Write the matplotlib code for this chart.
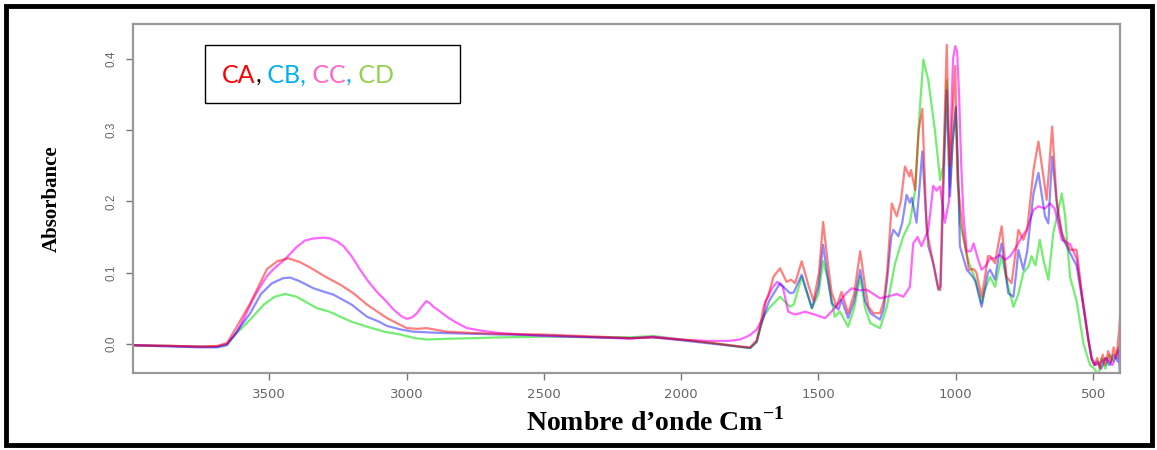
import matplotlib
matplotlib.use("Agg")
import matplotlib.pyplot as plt
from matplotlib.patches import Rectangle

# ---- FTIR absorbance spectra (wavenumber in cm-1, absorbance) ----
ca_wn = [4000, 3850, 3750, 3690, 3654, 3618, 3569, 3508, 3470, 3431, 3390, 3351, 3290, 3241,
         3190, 3144, 3071, 2999, 2960, 2926, 2853, 2750, 2659, 2500, 2300, 2186, 2102, 2000,
         1884, 1780, 1749, 1725, 1710, 1700, 1682, 1664, 1640, 1616, 1600, 1585, 1561, 1535,
         1518, 1498, 1483, 1465, 1452, 1434, 1416, 1392, 1370, 1348, 1330, 1318, 1300, 1276,
         1262, 1250, 1233, 1215, 1200, 1185, 1169, 1163, 1148, 1135, 1122, 1106, 1082, 1064,
         1057, 1045, 1033, 1026, 1021, 1012, 1002, 994, 975, 952, 935, 925, 906, 895, 883,
         875, 857, 845, 833, 815, 797, 785, 772, 754, 740, 717, 699, 681, 669, 649, 633, 614,
         584, 560, 541, 517, 505, 495, 485, 475, 465, 455, 445, 435, 425, 415, 405, 402]
ca_abs = [-0.002, -0.003, -0.004, -0.003, 0.001, 0.024, 0.057, 0.105, 0.116, 0.120, 0.115, 0.107,
          0.093, 0.083, 0.070, 0.055, 0.036, 0.022, 0.021, 0.022, 0.017, 0.015, 0.014, 0.013,
          0.010, 0.008, 0.009, 0.006, 0.001, -0.004, -0.005, 0.005, 0.030, 0.052, 0.069, 0.094,
          0.106, 0.087, 0.090, 0.085, 0.116, 0.080, 0.060, 0.100, 0.171, 0.110, 0.072, 0.052,
          0.073, 0.043, 0.070, 0.130, 0.080, 0.052, 0.043, 0.043, 0.060, 0.100, 0.197, 0.179,
          0.200, 0.249, 0.235, 0.244, 0.216, 0.300, 0.330, 0.160, 0.113, 0.080, 0.075, 0.250,
          0.420, 0.300, 0.250, 0.320, 0.390, 0.230, 0.160, 0.104, 0.105, 0.100, 0.066, 0.090,
          0.123, 0.123, 0.113, 0.140, 0.165, 0.094, 0.085, 0.120, 0.160, 0.146, 0.160, 0.244,
          0.284, 0.235, 0.202, 0.305, 0.202, 0.155, 0.132, 0.132, 0.071, 0.006, -0.022, -0.030,
          -0.020, -0.035, -0.015, -0.030, -0.010, -0.025, -0.005, -0.020, 0.020, 0.038]

cb_wn = [4000, 3850, 3750, 3690, 3654, 3618, 3569, 3530, 3490, 3450, 3424, 3390, 3339, 3300,
         3266, 3200, 3144, 3100, 3071, 3020, 2975, 2920, 2853, 2750, 2659, 2500, 2300, 2186,
         2102, 2000, 1884, 1790, 1749, 1725, 1710, 1700, 1680, 1640, 1604, 1590, 1561, 1524,
         1500, 1483, 1465, 1452, 1427, 1416, 1392, 1370, 1348, 1330, 1311, 1276, 1262, 1250,
         1235, 1227, 1209, 1195, 1179, 1167, 1160, 1143, 1132, 1122, 1110, 1100, 1082, 1064,
         1055, 1045, 1033, 1025, 1021, 1012, 1000, 993, 985, 960, 940, 928, 906, 895, 883,
         875, 857, 845, 833, 809, 790, 780, 772, 754, 740, 717, 699, 675, 663, 649, 627, 608,
         578, 560, 541, 517, 505, 495, 485, 470, 455, 440, 425, 410, 405, 402]
cb_abs = [-0.002, -0.004, -0.005, -0.005, -0.002, 0.017, 0.043, 0.070, 0.085, 0.092, 0.093,
          0.088, 0.078, 0.073, 0.069, 0.055, 0.038, 0.031, 0.025, 0.020, 0.017, 0.016, 0.015,
          0.014, 0.013, 0.012, 0.009, 0.008, 0.009, 0.005, 0.000, -0.004, -0.006, 0.003, 0.025,
          0.038, 0.060, 0.085, 0.071, 0.072, 0.097, 0.050, 0.080, 0.139, 0.090, 0.057, 0.048,
          0.062, 0.036, 0.060, 0.104, 0.060, 0.043, 0.034, 0.050, 0.090, 0.150, 0.160, 0.151,
          0.170, 0.209, 0.198, 0.205, 0.170, 0.220, 0.270, 0.190, 0.137, 0.113, 0.076, 0.080,
          0.220, 0.356, 0.250, 0.207, 0.280, 0.333, 0.260, 0.137, 0.104, 0.095, 0.087, 0.052,
          0.075, 0.100, 0.104, 0.090, 0.120, 0.141, 0.071, 0.066, 0.100, 0.132, 0.104, 0.130,
          0.211, 0.240, 0.179, 0.169, 0.263, 0.179, 0.146, 0.123, 0.110, 0.065, 0.005, -0.022,
          -0.030, -0.025, -0.035, -0.020, -0.030, -0.015, -0.025, -0.010, -0.045]

cc_wn = [4000, 3850, 3750, 3690, 3654, 3620, 3594, 3560, 3533, 3508, 3484, 3442, 3400, 3370,
         3339, 3300, 3278, 3250, 3229, 3200, 3169, 3140, 3108, 3075, 3047, 3020, 2999, 2980,
         2962, 2945, 2928, 2915, 2902, 2880, 2853, 2820, 2780, 2720, 2659, 2500, 2300, 2186,
         2102, 2000, 1900, 1830, 1785, 1750, 1725, 1700, 1693, 1669, 1650, 1630, 1610, 1585,
         1549, 1513, 1476, 1441, 1404, 1379, 1350, 1324, 1300, 1276, 1250, 1215, 1191, 1167,
         1155, 1139, 1125, 1100, 1082, 1070, 1057, 1040, 1025, 1018, 1010, 1002, 995, 988,
         980, 972, 960, 945, 935, 920, 906, 890, 875, 857, 840, 820, 802, 778, 760, 742, 717,
         699, 675, 657, 640, 633, 614, 584, 560, 541, 517, 505, 490, 470, 450, 430, 415, 405,
         402]
cc_abs = [-0.002, -0.003, -0.004, -0.004, 0.000, 0.015, 0.034, 0.062, 0.080, 0.095, 0.105,
          0.119, 0.136, 0.145, 0.148, 0.149, 0.148, 0.143, 0.137, 0.123, 0.104, 0.088, 0.073,
          0.060, 0.048, 0.039, 0.035, 0.037, 0.043, 0.052, 0.060, 0.057, 0.052, 0.046, 0.038,
          0.030, 0.022, 0.018, 0.015, 0.011, 0.009, 0.007, 0.010, 0.006, 0.004, 0.004, 0.006,
          0.012, 0.020, 0.038, 0.059, 0.078, 0.087, 0.080, 0.045, 0.041, 0.045, 0.041, 0.036,
          0.050, 0.069, 0.078, 0.075, 0.076, 0.070, 0.064, 0.066, 0.070, 0.066, 0.080, 0.141,
          0.150, 0.137, 0.160, 0.222, 0.215, 0.221, 0.170, 0.200, 0.300, 0.400, 0.418, 0.410,
          0.350, 0.250, 0.180, 0.130, 0.130, 0.141, 0.120, 0.104, 0.110, 0.120, 0.120, 0.125,
          0.118, 0.123, 0.137, 0.150, 0.160, 0.188, 0.193, 0.190, 0.197, 0.190, 0.179, 0.146,
          0.140, 0.120, 0.070, 0.005, -0.020, -0.030, -0.025, -0.020, -0.030, -0.015, -0.005,
          -0.040]

cd_wn = [4000, 3850, 3750, 3690, 3654, 3618, 3569, 3520, 3480, 3442, 3400, 3326, 3280, 3241,
         3200, 3144, 3080, 3023, 2970, 2926, 2850, 2750, 2659, 2500, 2300, 2186, 2102, 2000,
         1884, 1790, 1749, 1725, 1710, 1700, 1680, 1640, 1604, 1590, 1561, 1524, 1500, 1483,
         1465, 1441, 1422, 1392, 1370, 1348, 1330, 1311, 1276, 1251, 1221, 1191, 1167, 1148,
         1132, 1118, 1100, 1076, 1057, 1045, 1033, 1021, 1012, 1000, 993, 985, 966, 952, 928,
         906, 895, 875, 857, 833, 809, 790, 772, 754, 736, 724, 710, 694, 681, 663, 645, 625,
         614, 602, 584, 560, 535, 511, 495, 480, 470, 455, 440, 425, 410, 402]
cd_abs = [-0.002, -0.003, -0.004, -0.004, -0.001, 0.015, 0.034, 0.055, 0.066, 0.070, 0.066,
          0.050, 0.045, 0.038, 0.031, 0.024, 0.017, 0.013, 0.008, 0.006, 0.007, 0.008, 0.009,
          0.010, 0.009, 0.009, 0.011, 0.006, 0.001, -0.004, -0.006, 0.002, 0.025, 0.038, 0.050,
          0.066, 0.052, 0.055, 0.094, 0.050, 0.070, 0.116, 0.090, 0.038, 0.045, 0.024, 0.050,
          0.094, 0.050, 0.029, 0.022, 0.052, 0.113, 0.151, 0.170, 0.216, 0.324, 0.399, 0.370,
          0.300, 0.230, 0.250, 0.370, 0.220, 0.280, 0.330, 0.250, 0.170, 0.137, 0.113, 0.090,
          0.057, 0.075, 0.094, 0.080, 0.123, 0.080, 0.052, 0.070, 0.100, 0.108, 0.123, 0.110,
          0.146, 0.118, 0.090, 0.155, 0.190, 0.211, 0.180, 0.094, 0.060, 0.000, -0.030, -0.035,
          -0.045, -0.020, -0.035, -0.015, -0.025, -0.010, 0.000]

x_ticks = [3500, 3000, 2500, 2000, 1500, 1000, 500]
y_ticks = [0.0, 0.1, 0.2, 0.3, 0.4]

plt.rcParams["mathtext.fontset"] = "custom"
plt.rcParams["mathtext.rm"] = "Liberation Serif:bold"
plt.rcParams["mathtext.bf"] = "Liberation Serif:bold"

W, H = 1157, 450
fig = plt.figure(figsize=(W / 100, H / 100), dpi=100)
ax = fig.add_axes([133 / W, 1 - 373 / H, (1120 - 133) / W, (373 - 24) / H])

series = [
    (cd_wn, cd_abs, "#00e000", 0.55),
    (cc_wn, cc_abs, "#ff00ff", 0.6),
    (cb_wn, cb_abs, "#0000ff", 0.45),
    (ca_wn, ca_abs, "#ff0000", 0.5),
]
for wn, ab, col, a in series:
    ax.plot(wn, ab, color=col, alpha=a, lw=1.6, solid_joinstyle="round")

ax.set_xlim(3996, 402)
ax.set_ylim(-0.041, 0.449)
ax.set_xticks(x_ticks)
ax.set_xticklabels([str(v) for v in x_ticks], fontsize=9.5, color="#666666",
                   family="DejaVu Sans")
ax.set_yticks(y_ticks)
ax.set_yticklabels([f"{v:.1f}" for v in y_ticks], fontsize=8.5, color="#666666",
                   rotation=90, va="center", family="Liberation Sans")
ax.tick_params(axis="both", direction="out", length=5, width=1, color="#777777", pad=6)
for s in ax.spines.values():
    s.set_color("#999999")
    s.set_linewidth(1.6)

ax.set_ylabel("Absorbance", family="Liberation Serif", weight="bold", fontsize=15)
ax.yaxis.set_label_coords(-0.072, 0.50)

fig.text(655 / W, 1 - 422 / H, "Nombre d\u2019onde Cm$^{\\mathrm{-1}}$",
         family="Liberation Serif", weight="bold", fontsize=20, ha="center", va="center")

# key box with coloured sample names
fig.patches.append(Rectangle((205 / W, 1 - 103 / H), 255 / W, 58 / H, transform=fig.transFigure,
                             fill=False, edgecolor="black", lw=1.0))
parts = [("CA", "#ff0000"), (",", "#000000"), (" CB,", "#00b0f0"), (" CC", "#ff66cc"),
         (",", "#00b0f0"), (" CD", "#92d050")]
last = fig.text(222 / W, 1 - 87 / H, parts[0][0], color=parts[0][1], fontsize=18,
                family="Lato", va="bottom")
for s, c in parts[1:]:
    last = ax.annotate(s, xy=(1, 0), xycoords=last, va="bottom", ha="left",
                       color=c, fontsize=18, family="Lato", annotation_clip=False)

# outer frame
fig.patches.append(Rectangle((6 / W, 5 / H), (W - 11) / W, (H - 11) / H,
                             transform=fig.transFigure, fill=False, edgecolor="black", lw=3.5))

fig.savefig("out.png", dpi=100)
